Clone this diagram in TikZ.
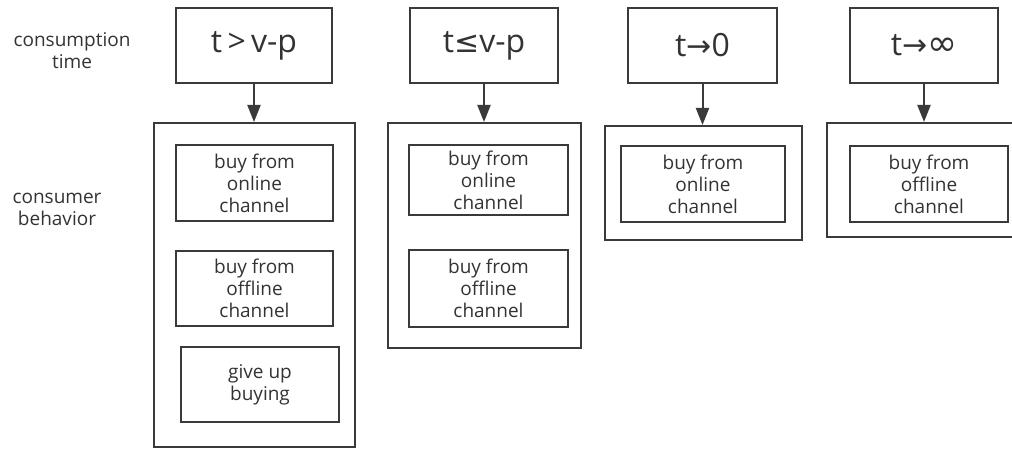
\documentclass[tikz,border=0pt]{standalone}
\usepackage{fontspec}
\setmainfont{Open Sans}
\newfontfamily\symf{DejaVu Sans}
\usetikzlibrary{arrows.meta}
\definecolor{linec}{HTML}{3A3A3A}
\definecolor{textc}{HTML}{333333}
\newcommand{\symtxt}[1]{{\symf\fontsize{30}{36}\selectfont #1}}
\newcommand{\symbig}[1]{{\symf\fontsize{36}{36}\selectfont #1}}
\begin{document}
\begin{tikzpicture}[x=1pt,y=-1pt,
  box/.style={draw=linec, line width=2pt, inner sep=0pt, align=center, text=textc,
    font=\fontsize{19}{22}\selectfont},
  topbox/.style={box, font=\fontsize{32}{36}\selectfont},
  outerbox/.style={draw=linec, line width=2pt, inner sep=0pt},
  label/.style={align=center, text=textc, font=\fontsize{19}{22}\selectfont},
  conn/.style={draw=linec, line width=2pt, -{Triangle[length=17pt,width=13pt]}}]
\clip (0,0) rectangle (1012,449);
\useasboundingbox (0,0) rectangle (1012,449);
% left labels
\node[label] (lt) at (72,51) {consumption\\time};
\node[label] (lb) at (57,209) {consumer\\behavior};
% column 1
\node[topbox, minimum width=156pt, minimum height=75pt] (t1) at (254,45.5) {t\,>\,v-p};
\node[outerbox, minimum width=201pt, minimum height=324pt] (o1) at (254.5,285) {};
\node[box, minimum width=157pt, minimum height=76pt] (a1) at (254.5,183) {buy from\\online\\channel};
\node[box, minimum width=157pt, minimum height=75pt] (b1) at (254.5,288.5) {buy from\\offline\\channel};
\node[box, minimum width=158pt, minimum height=75pt] (c1) at (260,384.5) {give up\\buying};
% column 2
\node[topbox, minimum width=148pt, minimum height=75pt] (t2) at (484,45.5) {t\symtxt{≤}v-p};
\node[outerbox, minimum width=193pt, minimum height=225pt] (o2) at (484.5,235.5) {};
\node[box, minimum width=159pt, minimum height=70pt] (a2) at (488.5,180) {buy from\\online\\channel};
\node[box, minimum width=159pt, minimum height=77pt] (b2) at (488.5,288.5) {buy from\\offline\\channel};
% column 3
\node[topbox, minimum width=149pt, minimum height=75pt] (t3) at (702.5,45.5) {t\symtxt{→}0};
\node[outerbox, minimum width=197pt, minimum height=114pt] (o3) at (703.5,183) {};
\node[box, minimum width=164pt, minimum height=76pt] (a3) at (703,184) {buy from\\online\\channel};
% column 4
\node[topbox, minimum width=148pt, minimum height=75pt] (t4) at (924,45.5) {t\symtxt{→}\symbig{∞}};
\node[outerbox, minimum width=203pt, minimum height=114pt] (o4) at (928.5,180) {};
\node[box, minimum width=158pt, minimum height=76pt] (a4) at (929,184) {buy from\\offline\\channel};
% connectors
\draw[conn] (t1.south) -- (t1.south |- o1.north);
\draw[conn] (t2.south) -- (t2.south |- o2.north);
\draw[conn] (t3.south) -- (t3.south |- o3.north);
\draw[conn] (t4.south) -- (t4.south |- o4.north);
\end{tikzpicture}
\end{document}
